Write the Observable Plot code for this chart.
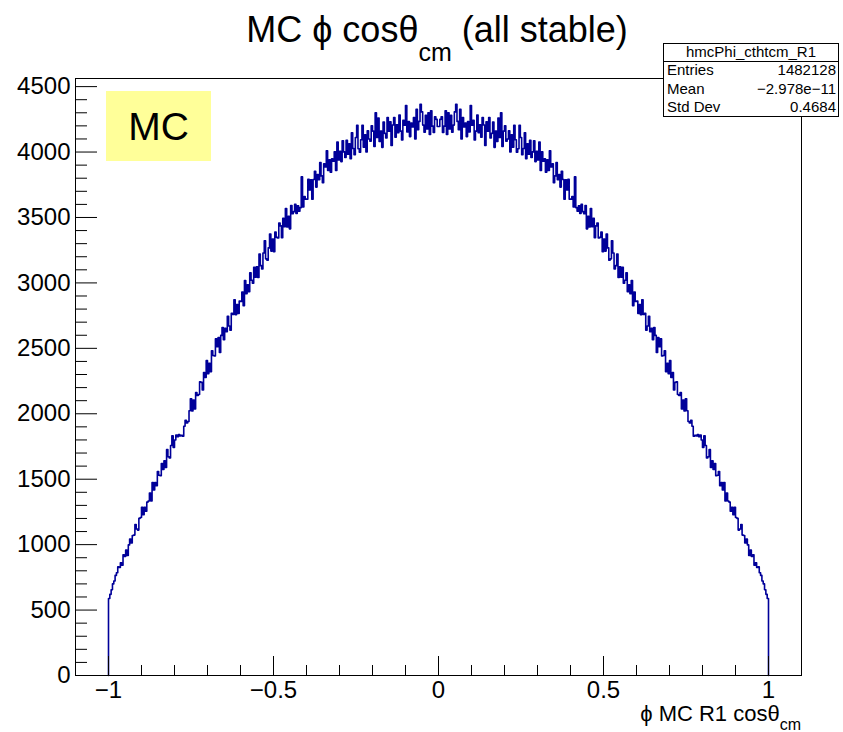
<!DOCTYPE html>
<html>
<head>
<meta charset="utf-8">
<script src="https://cdn.jsdelivr.net/npm/d3@7"></script>
<script src="https://cdn.jsdelivr.net/npm/@observablehq/plot@0.6"></script>
<style>
  html, body { margin: 0; padding: 0; background: #fff; }
  #chart { position: relative; width: 843px; height: 732px; }
</style>
</head>
<body>
<div id="chart"></div>
<script>
// ---------- data ----------
const titleMain = "MC ϕ cosθ";
const titleSub = "cm";
const titleTail = " (all stable)";
const xLabelMain = "ϕ MC R1 cosθ";
const xLabelSub = "cm";
const histName = "hmcPhi_cthtcm_R1";
const statNames = ["Entries", "Mean", "Std Dev"];
const statValues = ["1482128", "−2.978e−11", "0.4684"];
const boxLabel = "MC";

const binLow = -1, binHigh = 1;
// bin contents from x = -1 to 0 (histogram is mirror symmetric, mean ≈ 0)
const countsLeftHalf = [
  588, 620, 655, 700, 722, 765, 785, 830, 826, 862,
  842, 923, 909, 959, 917, 998, 1043, 1012, 1070, 1073,
  1153, 1120, 1111, 1201, 1207, 1286, 1228, 1286, 1256, 1325,
  1334, 1394, 1334, 1474, 1418, 1474, 1450, 1558, 1530, 1526,
  1620, 1575, 1640, 1590, 1726, 1672, 1662, 1758, 1832, 1743,
  1800, 1838, 1825, 1842, 1830, 1836, 1828, 1905, 1950, 1930,
  1941, 2023, 2115, 2022, 2104, 2036, 2163, 2140, 2147, 2244,
  2240, 2182, 2315, 2278, 2406, 2306, 2386, 2322, 2482, 2445,
  2441, 2572, 2513, 2583, 2468, 2599, 2659, 2566, 2653, 2627,
  2745, 2671, 2639, 2768, 2759, 2871, 2757, 2834, 2767, 2862,
  2858, 2931, 2825, 3018, 2918, 2985, 2933, 3078, 3020, 2997,
  3120, 3044, 3124, 3042, 3221, 3132, 3107, 3229, 3322, 3184,
  3174, 3268, 3373, 3243, 3336, 3238, 3388, 3348, 3344, 3457,
  3436, 3346, 3493, 3429, 3569, 3428, 3509, 3413, 3592, 3529,
  3545, 3600, 3530, 3590, 3548, 3575, 3810, 3580, 3660, 3640,
  3640, 3791, 3711, 3787, 3639, 3790, 3853, 3732, 3828, 3789,
  3919, 3818, 3766, 3910, 3886, 4009, 3859, 3940, 3846, 3948,
  3930, 4002, 3859, 4076, 3940, 4006, 3927, 4086, 4001, 3958,
  4090, 3984, 4063, 3949, 4147, 4027, 3980, 4111, 4205, 4025,
  3999, 4094, 4204, 4037, 4132, 4000, 4163, 4100, 4083, 4200,
  4160, 4042, 4300, 4111, 4260, 4081, 4161, 4036, 4230, 4143,
  4107, 4264, 4159, 4232, 4050, 4207, 4264, 4113, 4208, 4148,
  4283, 4160, 4092, 4242, 4205, 4355, 4153, 4233, 4118, 4221,
  4191, 4263, 4100, 4326, 4170, 4234, 4365, 4307, 4206, 4152,
  4280, 4176, 4300, 4135, 4316, 4198, 4150, 4269, 4250, 4195
];

const xMajorTicks = [-1, -0.5, 0, 0.5, 1];
const xTickLabels = ["−1", "−0.5", "0", "0.5", "1"];
const xMinorTicks = [-0.9, -0.8, -0.7, -0.6, -0.4, -0.3, -0.2, -0.1, 0.1, 0.2, 0.3, 0.4, 0.6, 0.7, 0.8, 0.9];
const yMajorTicks = [0, 500, 1000, 1500, 2000, 2500, 3000, 3500, 4000, 4500];
const yTickLabels = ["0", "500", "1000", "1500", "2000", "2500", "3000", "3500", "4000", "4500"];
const yMinorStep = 100;

// ---------- build ----------
const counts = countsLeftHalf.concat(countsLeftHalf.slice().reverse());
const nBins = counts.length;
const bw = (binHigh - binLow) / nBins;
const stepPts = [{x: binLow, y: 0}]
  .concat(counts.map((c, i) => ({x: binLow + i * bw, y: c})))
  .concat([{x: binHigh, y: counts[nBins - 1]}, {x: binHigh, y: 0}]);
const yMinorTicks = d3.range(0, 4501, yMinorStep).filter(v => !yMajorTicks.includes(v));

const W = 843, H = 732;
const mL = 75, mR = 42, mT = 78, mB = 57;
const fw = W - mL - mR, fh = H - mT - mB;
const font = "'Liberation Sans', Arial, Helvetica, sans-serif";

const plot = Plot.plot({
  width: W, height: H,
  marginLeft: mL, marginRight: mR, marginTop: mT, marginBottom: mB,
  style: {fontFamily: font, background: "#fff", color: "#000"},
  x: {domain: [-1.1, 1.1]},
  y: {domain: [0, 4562]},
  marks: [
    Plot.line(stepPts, {x: "x", y: "y", curve: "step-after", stroke: "#000099", strokeWidth: 1.6}),
    Plot.frame({stroke: "#000", strokeWidth: 1}),
    Plot.tickX(xMajorTicks, {x: d => d, insetTop: fh - 19, stroke: "#000"}),
    Plot.tickX(xMinorTicks, {x: d => d, insetTop: fh - 10, stroke: "#000"}),
    Plot.tickY(yMajorTicks, {y: d => d, insetRight: fw - 22, stroke: "#000"}),
    Plot.tickY(yMinorTicks, {y: d => d, insetRight: fw - 12, stroke: "#000"}),
    Plot.axisX(xMajorTicks, {tickSize: 0, tickPadding: 5, fontSize: 24, label: null,
      tickFormat: d => xTickLabels[xMajorTicks.indexOf(d)]}),
    Plot.axisY(yMajorTicks, {tickSize: 0, tickPadding: 5, fontSize: 24, label: null,
      tickFormat: d => yTickLabels[yMajorTicks.indexOf(d)]})
  ]
});

document.getElementById("chart").appendChild(plot);
const svg = d3.select(plot);

// title
const t = svg.append("text").attr("x", 437).attr("y", 42).attr("text-anchor", "middle")
  .attr("font-family", font).attr("font-size", 36).attr("fill", "#000");
t.append("tspan").text(titleMain);
t.append("tspan").attr("font-size", 25).attr("dy", 19).text(titleSub);
t.append("tspan").attr("dy", -19).text(titleTail);

// x axis label
const xl = svg.append("text").attr("x", 801).attr("y", 721).attr("text-anchor", "end")
  .attr("font-family", font).attr("font-size", 22).attr("fill", "#000");
xl.append("tspan").text(xLabelMain);
xl.append("tspan").attr("font-size", 16).attr("dy", 9).text(xLabelSub);

// MC label box
svg.append("rect").attr("x", 106).attr("y", 91).attr("width", 105).attr("height", 70).attr("fill", "#ffff99");
svg.append("text").attr("x", 158.5).attr("y", 140).attr("text-anchor", "middle")
  .attr("font-family", font).attr("font-size", 39).attr("fill", "#000").text(boxLabel);

// stats box
const sx = 663.5, sy = 43.5, sw = 175, sh = 73;
svg.append("rect").attr("x", sx).attr("y", sy).attr("width", sw).attr("height", sh)
  .attr("fill", "#fff").attr("stroke", "#000").attr("stroke-width", 1);
svg.append("line").attr("x1", sx).attr("x2", sx + sw).attr("y1", 61.5).attr("y2", 61.5).attr("stroke", "#000");
svg.append("text").attr("x", sx + sw / 2).attr("y", 57).attr("text-anchor", "middle")
  .attr("font-family", font).attr("font-size", 15).text(histName);
statNames.forEach((n, i) => {
  const by = 75 + i * 18.5;
  svg.append("text").attr("x", 667).attr("y", by).attr("text-anchor", "start")
    .attr("font-family", font).attr("font-size", 15).text(n);
  svg.append("text").attr("x", 836).attr("y", by).attr("text-anchor", "end")
    .attr("font-family", font).attr("font-size", 15).text(statValues[i]);
});
</script>
</body>
</html>
